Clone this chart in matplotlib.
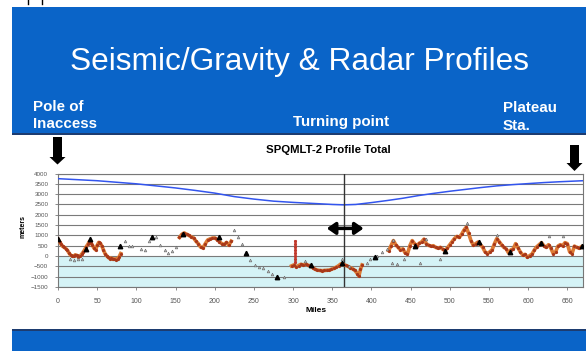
import numpy as np
import matplotlib
matplotlib.use('Agg')
import matplotlib.pyplot as plt
from matplotlib.patches import Rectangle, Polygon

# ---------------- data ----------------
surface_miles = [0, 50, 100, 125, 150, 175, 200, 225, 250, 275, 300, 325, 350, 365,
                 380, 400, 420, 440, 460, 480, 500, 520, 540, 560, 580, 600, 620, 640, 670]
surface_m = [3750, 3650, 3500, 3400, 3300, 3180, 3050, 2880, 2760, 2660, 2600, 2550, 2500, 2480,
             2500, 2590, 2690, 2800, 2930, 3040, 3140, 3230, 3320, 3400, 3460, 3510, 3560, 3600, 3650]

radar_a_miles = list(range(0, 81, 2))
radar_a_m = [820, 700, 560, 470, 420, 360, 280, 150, 40, 10, -20, 60, 30, -40, 0, 80, 180, 300,
             450, 560, 700, 640, 520, 380, 300, 520, 660, 620, 480, 300, 120, 20, -60, -120,
             -100, -160, -140, -170, -120, -40, 120]

radar_b_miles = list(range(155, 222, 3))
radar_b_m = [900, 1050, 1120, 1060, 1000, 930, 880, 720, 600, 430, 400, 600, 780, 830, 870,
             880, 800, 700, 600, 560, 660, 520, 720]

radar_c_miles = [298, 301, 304, 307, 310, 313, 316, 319, 322, 325, 328, 331, 334, 337, 340, 343,
                 346, 349, 352, 355, 358, 361, 364, 367, 370, 373, 376, 379, 382, 384, 386, 388]
radar_c_m = [-480, -430, -520, -460, -400, -430, -380, -450, -470, -560, -640, -680, -700, -710,
             -700, -690, -680, -640, -600, -540, -470, -380, -400, -450, -500, -560, -620, -700,
             -850, -970, -650, -430]

spike_miles = [303, 303, 303, 303, 303, 303, 303, 303]
spike_m = [720, 580, 440, 300, 150, 0, -150, -300]

radar_d_miles = list(range(422, 669, 3))
radar_d_m = [260, 500, 750, 550, 420, 300, 350, 150, 100, 500, 750, 600, 500, 620, 680, 820,
             600, 520, 480, 500, 420, 380, 420, 330, 260, 400, 550, 700, 850, 950, 900, 1050,
             1250, 1400, 1100, 750, 520, 600, 680, 560, 420, 200, 120, 200, 300, 600, 850, 700,
             550, 420, 350, 150, 300, 350, 600, 400, 200, 50, 80, -60, 20, 100, 300, 450, 550,
             650, 500, 420, 550, 380, 120, 200, 480, 550, 500, 650, 600, 200, 120, 480, 420,
             380, 450]

seismic_miles = [0, 36, 41, 79, 120, 160, 205, 240, 279, 323, 362, 404, 456, 494, 537, 577, 617, 669]
seismic_m = [840, 345, 840, 510, 920, 1085, 920, 150, -1005, -430, -315, -60, 510, 260, 670, 210, 640, 475]

gravity_miles = [15, 20, 25, 30, 86, 91, 95, 106, 111, 116, 125, 130, 137, 141, 145, 150,
                 224, 230, 235, 245, 251, 256, 262, 268, 273, 288, 315, 362, 371, 394, 398,
                 403, 407, 413, 420, 426, 433, 428, 441, 462, 470, 488, 522, 560, 626, 645]
gravity_m = [-150, -170, -160, -150, 705, 475, 510, 345, 280, 705, 920, 540, 310, 150, 250, 425,
             1250, 920, 590, -200, -430, -530, -600, -725, -890, -1000, -230, -150, -480, -315,
             -120, -70, 15, 180, 345, -350, -395, 755, -150, -315, 840, -150, 1580, 1000, 950, 950]

x_ticks = list(range(0, 651, 50))
y_ticks = list(range(-1500, 4001, 500))
turn_mile = 365

# ---------------- figure ----------------
W, H = 586, 351
fig = plt.figure(figsize=(W / 100, H / 100), dpi=100)
fig.patch.set_facecolor('white')
plt.rcParams['font.family'] = ['Liberation Sans', 'DejaVu Sans']

bg = fig.add_axes([0, 0, 1, 1])
bg.set_xlim(0, W)
bg.set_ylim(H, 0)
bg.axis('off')
blue = '#0a64c8'
bg.add_patch(Rectangle((12, 7), W - 12, 126.5, color=blue, lw=0))
bg.add_patch(Rectangle((12, 132.5), W - 12, 2, color='#1d3c70', lw=0))
bg.add_patch(Rectangle((12, 330), W - 12, 21, color=blue, lw=0))
bg.add_patch(Rectangle((12, 329), W - 12, 1.5, color='#1d3c70', lw=0))
bg.plot([28, 28], [0, 4], color='black', lw=1)
bg.plot([42, 42], [0, 4], color='black', lw=1)

bg.text(300, 62, 'Seismic/Gravity & Radar Profiles', color='white', fontsize=22.8,
        ha='center', va='center')
lab = dict(color='white', fontsize=10.9, fontweight='heavy', va='center')
bg.text(33, 107, 'Pole of', ha='left', **lab)
bg.text(33, 124, 'Inaccess', ha='left', **lab)
bg.text(341, 122, 'Turning point', ha='center', **lab)
bg.text(503, 108, 'Plateau', ha='left', **lab)
bg.text(503, 126, 'Sta.', ha='left', **lab)


def down_arrow(xc, y0, y1, yt):
    pts = [(xc - 4.5, y0), (xc + 4.5, y0), (xc + 4.5, y1), (xc + 8, y1), (xc, yt),
           (xc - 8, y1), (xc - 4.5, y1)]
    bg.add_patch(Polygon(pts, closed=True, color='black', lw=0))


down_arrow(57.5, 137, 157, 164.5)
down_arrow(574.5, 145, 163, 171)

bg.text(328, 150, 'SPQMLT-2 Profile Total', fontsize=8.2, fontweight='bold', ha='center', va='center')
bg.text(23, 227, 'meters', fontsize=5, fontweight='bold', rotation=90, ha='center', va='center')
bg.text(316, 311, 'Miles', fontsize=6, fontweight='bold', ha='center', va='center')

# ---------------- chart ----------------
ax = fig.add_axes([58 / W, 1 - 287 / H, (583 - 58) / W, (287 - 173.5) / H])
ax.set_facecolor('white')
ax.set_xlim(0, 670)
ax.set_ylim(-1500, 4000)
ax.axhspan(-1500, 0, color='#d5f3f6', lw=0, zorder=0)
ax.set_yticks(y_ticks)
ax.set_xticks(x_ticks)
ax.yaxis.grid(True, color='#7a7a7a', lw=0.8, zorder=1)
ax.set_axisbelow(True)
ax.tick_params(axis='y', labelsize=4.5, labelcolor='#555555', color='#777777',
               length=2, width=0.6, pad=5)
ax.tick_params(axis='x', labelsize=5, labelcolor='#555555', color='#777777',
               length=2, width=0.6, pad=6)
for s in ax.spines.values():
    s.set_color('#777777')
    s.set_linewidth(0.8)

ax.plot(surface_miles, surface_m, color='#3355ee', lw=1.1, zorder=3)
ax.axvline(turn_mile, color='#333333', lw=1, zorder=3)

for mx, my in [(radar_a_miles, radar_a_m), (radar_b_miles, radar_b_m),
               (radar_c_miles, radar_c_m), (radar_d_miles, radar_d_m)]:
    ax.plot(mx, my, color='#dc7a34', lw=2.6, zorder=3)
    ax.plot(mx, my, ls='none', marker='o', ms=1.3, color='#a8381a', zorder=4)
ax.plot(spike_miles, spike_m, ls='none', marker='s', ms=1.2, color='#c0392b', zorder=4)
ax.plot(gravity_miles, gravity_m, ls='none', marker='^', ms=2, mfc='#bbbbbb',
        mec='#666666', mew=0.4, zorder=4)
ax.plot(seismic_miles, seismic_m, ls='none', marker='^', ms=3.2, color='black', zorder=5)

ax.annotate('', xy=(343, 1340), xytext=(390, 1340),
            arrowprops=dict(arrowstyle='<|-|>,head_length=0.5,head_width=0.35',
                            color='black', lw=2.5, shrinkA=0, shrinkB=0), zorder=6)

fig.savefig('out.png', dpi=100)
